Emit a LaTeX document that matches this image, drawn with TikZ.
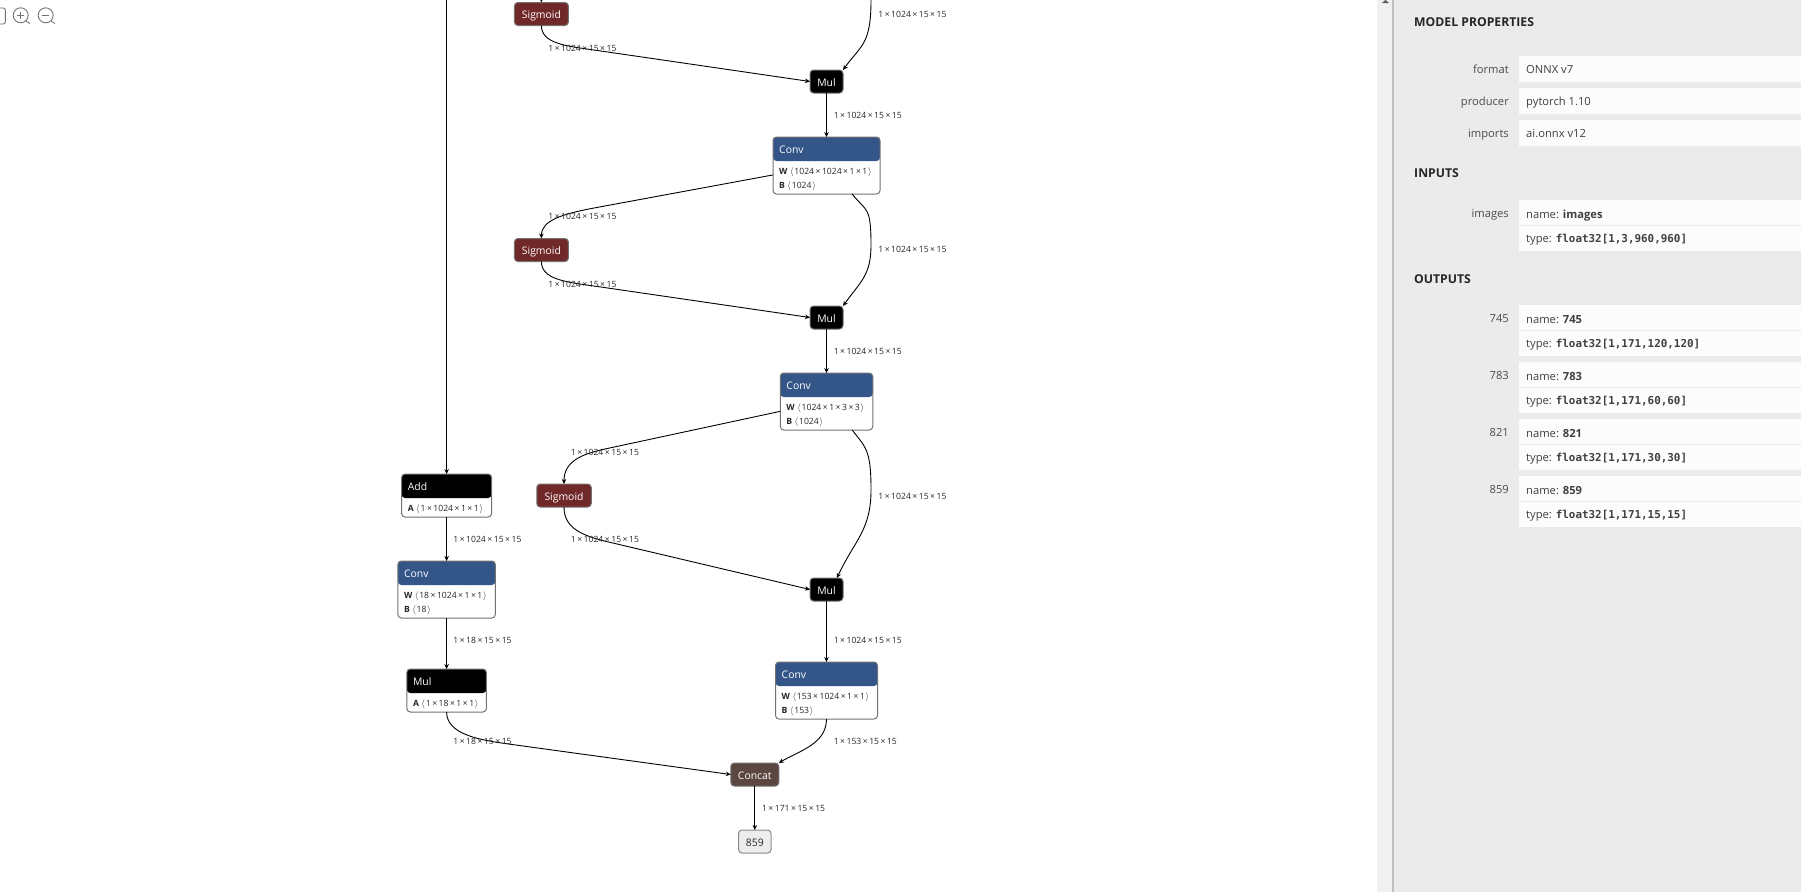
\documentclass[tikz,border=0pt]{standalone}
\usepackage{fontspec}
\setmainfont{Open Sans}
\newfontfamily\codefont{DejaVu Sans Mono}
\usetikzlibrary{arrows.meta,calc}
\definecolor{convblue}{HTML}{335588}
\definecolor{sigred}{HTML}{702828}
\definecolor{catbrown}{HTML}{5B4640}
\definecolor{panelbg}{HTML}{EBEBEB}
\definecolor{rowbg}{HTML}{FCFCFC}
\newcommand{\tm}{\kern1.5pt×\kern1.5pt}
\newcommand{\la}{\kern2.5pt$\langle$\kern.8pt}
\newcommand{\ra}{\kern.8pt$\rangle$}
\tikzset{
opbox/.style={draw=black!55,line width=1pt,rounded corners=3.5pt,inner sep=0pt,outer sep=0pt},
smallop/.style={opbox,text=white,font=\fontsize{10.4}{12}\selectfont,minimum height=23pt,text height=9pt,text depth=0pt},
optitle/.style={text=white,font=\fontsize{10.4}{12}\selectfont,inner sep=0pt,anchor=west,text height=9.5pt,text depth=0pt},
opattr/.style={font=\fontsize{8.6}{10}\selectfont,text=black!85,inner sep=0pt,anchor=west,text height=7pt,text depth=0pt},
dimlabel/.style={font=\fontsize{8.6}{10}\selectfont,text=black!85,inner sep=0pt,anchor=west,text height=7pt,text depth=0pt},
edge/.style={draw=black,line width=.9pt,-{Stealth[length=5pt,width=4.5pt]}},
rowbox/.style={fill=rowbg,draw=none,inner sep=0pt,minimum width=282pt,anchor=north west},
rowkey/.style={font=\fontsize{11.2}{13}\selectfont,text=black!70,inner sep=0pt,anchor=east,text height=8pt,text depth=0pt},
rowval/.style={font=\fontsize{11.2}{13}\selectfont,text=black!75,inner sep=0pt,anchor=west,text height=8pt,text depth=0pt},
panelhead/.style={font=\fontsize{12.2}{14}\selectfont\bfseries,text=black!85,inner sep=0pt,anchor=west,text height=10pt,text depth=0pt},
icon/.style={draw=black!55,line width=.9pt}
}
\newcommand{\opnode}[7]{\node[opbox,fill=white,minimum width=#4pt,minimum height=#5pt,path picture={\fill[#6](path picture bounding box.north west)rectangle([yshift=-24pt]path picture bounding box.north east);}](#1)at(#2,#3){};
\node[optitle](#1t)at([xshift=6pt,yshift=-12pt]#1.north west){#7};}
\newcommand{\opattr}[3]{\node[opattr](#1a#2)at([xshift=6pt,yshift=-#2pt]#1.north west){#3};}
\begin{document}
\begin{tikzpicture}[x=1pt,y=-1pt]
\useasboundingbox(0,0)rectangle(1801,892);
\fill[white](0,0)rectangle(1801,892);
\fill[black!6](1377,0)rectangle(1393,892);
\fill[panelbg](1393,0)rectangle(1801,892);
\draw[black!25,line width=1.5pt](1393,0)--(1393,892);
\fill[black!65](1382,3)--(1385.5,0)--(1389,3)--cycle;
\draw[icon,rounded corners=2pt](-6,8)rectangle(5.3,24);
\draw[icon](20.7,15.3)circle(7.5);\draw[icon](26,21)--(30,23.5);\draw[icon](17,15.3)--(24.4,15.3);\draw[icon](20.7,11.6)--(20.7,19);
\draw[icon](45.7,15.3)circle(7.5);\draw[icon](51,21)--(55,23.5);\draw[icon](42,15.3)--(49.4,15.3);

\node[smallop,fill=sigred,minimum width=54pt](siga)at(541.4,14){Sigmoid};
\node[smallop,fill=black,minimum width=33pt](mula)at(826.5,81.5){Mul};
\opnode{conva}{826.5}{165.5}{107}{57}{convblue}{Conv}
\opattr{conva}{33.7}{\textbf{W}\la 1024\tm1024\tm1\tm1\ra}
\opattr{conva}{47.5}{\textbf{B}\la 1024\ra}
\node[smallop,fill=sigred,minimum width=54pt](sigb)at(541.4,250){Sigmoid};
\node[smallop,fill=black,minimum width=33pt](mulb)at(826.5,317.5){Mul};
\opnode{convb}{826.5}{401.5}{92.5}{57}{convblue}{Conv}
\opattr{convb}{33.7}{\textbf{W}\la 1024\tm1\tm3\tm3\ra}
\opattr{convb}{47.5}{\textbf{B}\la 1024\ra}
\node[smallop,fill=sigred,minimum width=54.5pt](sigc)at(564,495.5){Sigmoid};
\node[smallop,fill=black,minimum width=33pt](mulc)at(826.5,589.5){Mul};
\opnode{convc}{826.5}{690.5}{102}{57}{convblue}{Conv}
\opattr{convc}{33.7}{\textbf{W}\la 153\tm1024\tm1\tm1\ra}
\opattr{convc}{47.5}{\textbf{B}\la 153\ra}
\opnode{addn}{446.6}{495.5}{90}{43}{black}{Add}
\opattr{addn}{33.5}{\textbf{A}\la 1\tm1024\tm1\tm1\ra}
\opnode{convd}{446.6}{589.5}{97.5}{57}{convblue}{Conv}
\opattr{convd}{33.7}{\textbf{W}\la 18\tm1024\tm1\tm1\ra}
\opattr{convd}{47.5}{\textbf{B}\la 18\ra}
\opnode{muld}{446.6}{690.5}{79.6}{43}{black}{Mul}
\opattr{muld}{33.5}{\textbf{A}\la 1\tm18\tm1\tm1\ra}
\node[smallop,fill=catbrown,minimum width=48pt](cat)at(754.8,774.5){Concat};
\node[smallop,fill=black!7,text=black!85,draw=black!45,minimum width=32.5pt](outn)at(754.8,841.5){859};

\coordinate(topa)at(446.6,0);\coordinate(topb)at(541.4,0);\coordinate(topc)at(871,0);
\coordinate(benda)at(594,50);\coordinate(bendb)at(594,208);\coordinate(bendc)at(594,286);
\coordinate(bendd)at(605,449);\coordinate(bende)at(608.6,542);\coordinate(bendf)at(508.6,744);
\coordinate(sidea)at(871,245);\coordinate(sideb)at(871,490);
\draw[edge](topa)--(addn.north);
\draw[edge](topb)--(siga.north);
\draw[edge](topc)..controls +(0,45)and +(18,-25)..(mula.north east);
\draw[edge](siga.south)..controls +(0,18)and +(-28,-4)..(benda)--(mula.west);
\draw[edge](mula.south)--(conva.north);
\draw[edge](conva.190)--(bendb)..controls +(-32,6)and +(0,-18)..(sigb.north);
\draw[edge](conva.-48)..controls +(14,18)and +(0,-40)..(sidea)..controls +(0,30)and +(18,-25)..(mulb.north east);
\draw[edge](sigb.south)..controls +(0,18)and +(-28,-4)..(bendc)--(mulb.west);
\draw[edge](mulb.south)--(convb.north);
\draw[edge](convb.192)--(bendd)..controls +(-25,5.4)and +(0,-22)..(sigc.north);
\draw[edge](convb.-48)..controls +(14,18)and +(0,-40)..(sideb)..controls +(0,40)and +(18,-38)..(mulc.48);
\draw[edge](sigc.south)..controls +(0,22)and +(-25,-6)..(bende)--(mulc.west);
\draw[edge](mulc.south)--(convc.north);
\draw[edge](convc.south)..controls +(0,25)and +(20,-12)..(cat.north east);
\draw[edge](cat.south)--(outn.north);
\draw[edge](addn.south)--(convd.north);
\draw[edge](convd.south)--(muld.north);
\draw[edge](muld.south)..controls +(0,22)and +(-30,-4)..(bendf)--(cat.west);

\foreach \nm/\x/\y/\t in {la/548.2/47.7/1\tm1024\tm15\tm15,lb/878.2/13.7/1\tm1024\tm15\tm15,lc/833.6/115/1\tm1024\tm15\tm15,ld/548.2/215.7/1\tm1024\tm15\tm15,le/878.2/249/1\tm1024\tm15\tm15,lf/548.2/283.7/1\tm1024\tm15\tm15,lg/833.6/350.7/1\tm1024\tm15\tm15,lh/570.7/451.7/1\tm1024\tm15\tm15,li/878.2/495.7/1\tm1024\tm15\tm15,lj/570.7/538.7/1\tm1024\tm15\tm15,lk/453.2/538.7/1\tm1024\tm15\tm15,ll/453.2/639.7/1\tm18\tm15\tm15,lm/453.2/740.7/1\tm18\tm15\tm15,ln/833.6/639.7/1\tm1024\tm15\tm15,lo/833.6/740.7/1\tm153\tm15\tm15,lp/761.8/807.7/1\tm171\tm15\tm15}
\node[dimlabel](\nm)at(\x,\y){\t};

\node[panelhead](hmodel)at(1414,21.5){MODEL PROPERTIES};
\node[panelhead](hinputs)at(1414,172.5){INPUTS};
\node[panelhead](houtputs)at(1414,278.5){OUTPUTS};
\foreach \nm/\y/\k/\v in {format/56/format/ONNX v7,producer/88/producer/pytorch 1.10,imports/120/imports/ai.onnx v12}{
\node[rowbox,minimum height=26pt](r\nm)at(1519,\y){};
\node[rowkey](k\nm)at(1509,\y+13){\k};
\node[rowval](v\nm)at(1526,\y+13.5){\v};}
\foreach \nm/\y/\n/\t in {images/200/images/{1,3,960,960},a/305/745/{1,171,120,120},b/362/783/{1,171,60,60},c/419/821/{1,171,30,30},d/476/859/{1,171,15,15}}{
\node[rowbox,minimum height=51pt](r\nm)at(1519,\y){};
\draw[panelbg,line width=.8pt](1519,\y+25.5)--(1801,\y+25.5);
\node[rowkey](k\nm)at(1509,\y+13){\n};
\node[rowval](n\nm)at(1526,\y+14){name: \textbf{\n}};
\node[rowval](t\nm)at(1526,\y+38.5){type: {\codefont\fontsize{10.9}{13}\selectfont\bfseries float32[\t]}};}
\end{tikzpicture}
\end{document}
